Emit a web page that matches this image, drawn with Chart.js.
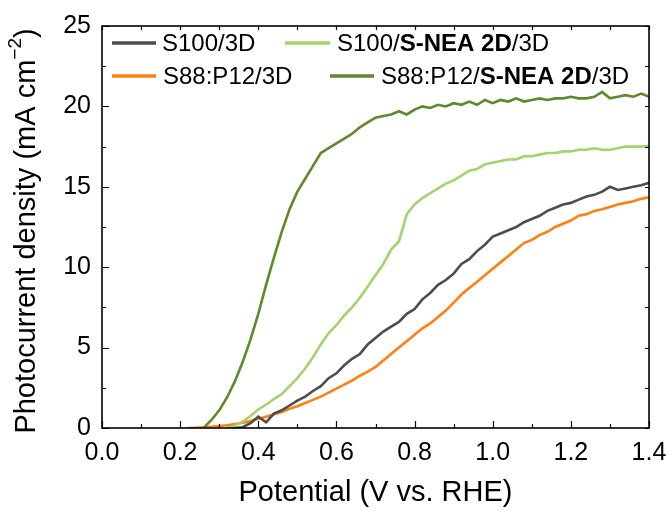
<!DOCTYPE html>
<html>
<head>
<meta charset="utf-8">
<script src="https://cdn.jsdelivr.net/npm/chart.js@4.4.1/dist/chart.umd.min.js"></script>
<style>
  html, body { margin: 0; padding: 0; background: #fff; }
  #wrap { width: 667px; height: 511px; }
</style>
</head>
<body>
<div id="wrap"><canvas id="c" width="667" height="511"></canvas></div>
<script>
// Applied potential (V vs. RHE)
const potential = [
  0.20, 0.22, 0.24, 0.26, 0.28, 0.30, 0.32, 0.34, 0.36, 0.38,
  0.40, 0.42, 0.44, 0.46, 0.48, 0.50, 0.52, 0.54, 0.56, 0.58,
  0.60, 0.62, 0.64, 0.66, 0.68, 0.70, 0.72, 0.74, 0.76, 0.78,
  0.80, 0.82, 0.84, 0.86, 0.88, 0.90, 0.92, 0.94, 0.96, 0.98,
  1.00, 1.02, 1.04, 1.06, 1.08, 1.10, 1.12, 1.14, 1.16, 1.18,
  1.20, 1.22, 1.24, 1.26, 1.28, 1.30, 1.32, 1.34, 1.36, 1.38,
  1.40
];

// Photocurrent density (mA cm^-2) for each photoanode
const s100_3D = [
  null, null, null, null, null, null, 0.0, 0.0, 0.05, 0.3,
  0.7, 0.35, 0.9, 1.1, 1.4, 1.7, 1.95, 2.3, 2.6, 3.1,
  3.4, 3.9, 4.3, 4.6, 5.2, 5.6, 6.0, 6.3, 6.6, 7.1,
  7.4, 8.0, 8.4, 8.9, 9.2, 9.6, 10.2, 10.5, 11.0, 11.4,
  11.9, 12.1, 12.3, 12.5, 12.8, 13.0, 13.2, 13.5, 13.7, 13.9,
  14.0, 14.2, 14.4, 14.5, 14.7, 15.0, 14.8, 14.9, 15.0, 15.1,
  15.25
];
const s100_sNea_3D = [
  null, null, null, null, null, null, 0.0, 0.15, 0.4, 0.75,
  1.15, 1.45, 1.8, 2.1, 2.6, 3.1, 3.7, 4.4, 5.2, 5.9,
  6.4, 7.0, 7.5, 8.1, 8.8, 9.5, 10.2, 11.1, 11.6, 13.3,
  13.9, 14.3, 14.6, 14.9, 15.2, 15.4, 15.7, 16.0, 16.1, 16.4,
  16.5, 16.6, 16.7, 16.7, 16.9, 16.9, 17.0, 17.1, 17.1, 17.2,
  17.2, 17.3, 17.3, 17.4, 17.3, 17.3, 17.4, 17.5, 17.5, 17.5,
  17.55
];
const s88p12_3D = [
  null, 0.0, 0.02, 0.05, 0.08, 0.12, 0.17, 0.25, 0.33, 0.43,
  0.57, 0.7, 0.85, 1.0, 1.2, 1.35, 1.55, 1.75, 1.95, 2.2,
  2.45, 2.7, 2.95, 3.25, 3.5, 3.8, 4.2, 4.6, 5.0, 5.4,
  5.8, 6.2, 6.5, 6.9, 7.3, 7.8, 8.3, 8.7, 9.1, 9.5,
  9.9, 10.3, 10.7, 11.1, 11.5, 11.7, 12.0, 12.2, 12.5, 12.7,
  12.9, 13.2, 13.3, 13.5, 13.6, 13.75, 13.9, 14.0, 14.1, 14.25,
  14.35
];
const s88p12_sNea_3D = [
  null, null, null, 0.0, 0.5, 1.1, 1.9, 2.9, 4.1, 5.5,
  7.1, 8.9, 10.6, 12.2, 13.6, 14.7, 15.5, 16.3, 17.1, 17.4,
  17.7, 18.0, 18.3, 18.7, 19.0, 19.3, 19.4, 19.5, 19.7, 19.5,
  19.8, 20.0, 19.9, 20.1, 20.0, 20.2, 20.1, 20.3, 20.1, 20.4,
  20.2, 20.4, 20.3, 20.5, 20.3, 20.4, 20.5, 20.4, 20.5, 20.5,
  20.6, 20.5, 20.5, 20.6, 20.9, 20.5, 20.6, 20.7, 20.6, 20.8,
  20.6
];

const seriesLabels = ['S100/3D', 'S100/S-NEA 2D/3D', 'S88:P12/3D', 'S88:P12/S-NEA 2D/3D'];
const boldPart = 'S-NEA 2D';
const seriesColors = ['#4d4d4d', '#a2d46a', '#ff7f0f', '#5e8a2c'];
const seriesValues = [s100_3D, s100_sNea_3D, s88p12_3D, s88p12_sNea_3D];

const xTitle = 'Potential (V vs. RHE)';
const yTitleMain = 'Photocurrent density (mA cm';
const yTitleSup = '\u22122';
const yTitleEnd = ')';

const FONT = "'Liberation Sans', Arial, Helvetica, sans-serif";

function toPoints(values) {
  const out = [];
  values.forEach((v, i) => { if (v !== null) out.push({ x: potential[i], y: v }); });
  return out;
}

// drawing order: olive on top, then light green, gray, orange
const drawOrder = [2, 1, 3, 0];

const datasets = seriesValues.map((vals, i) => ({
  label: seriesLabels[i],
  data: toPoints(vals),
  borderColor: seriesColors[i],
  backgroundColor: seriesColors[i],
  borderWidth: 2.6,
  pointRadius: 0,
  tension: 0,
  fill: false,
  order: drawOrder[i]
}));

// Closed frame with inward ticks on all four sides
const frameTicks = {
  id: 'frameTicks',
  afterDatasetsDraw(chart) {
    const { ctx, chartArea: a, scales: { x, y } } = chart;
    ctx.save();
    ctx.strokeStyle = '#000';
    ctx.lineWidth = 1.2;
    ctx.beginPath();
    const xt = x.ticks.map(t => t.value);
    const yt = y.ticks.map(t => t.value);
    const xs = xt.length > 1 ? xt[1] - xt[0] : 0;
    const ys = yt.length > 1 ? yt[1] - yt[0] : 0;
    xt.forEach((v, i) => {
      const p = Math.round(x.getPixelForValue(v)) + 0.5;
      ctx.moveTo(p, a.bottom); ctx.lineTo(p, a.bottom - 7);
      ctx.moveTo(p, a.top); ctx.lineTo(p, a.top + 4);
      if (i < xt.length - 1) {
        const m = Math.round(x.getPixelForValue(v + xs / 2)) + 0.5;
        ctx.moveTo(m, a.bottom); ctx.lineTo(m, a.bottom - 4);
        ctx.moveTo(m, a.top); ctx.lineTo(m, a.top + 4);
      }
    });
    yt.forEach((v, i) => {
      const p = Math.round(y.getPixelForValue(v)) + 0.5;
      ctx.moveTo(a.left, p); ctx.lineTo(a.left + 7, p);
      ctx.moveTo(a.right, p); ctx.lineTo(a.right - 4, p);
      if (i < yt.length - 1) {
        const m = Math.round(y.getPixelForValue(v + ys / 2)) + 0.5;
        ctx.moveTo(a.left, m); ctx.lineTo(a.left + 4, m);
        ctx.moveTo(a.right, m); ctx.lineTo(a.right - 4, m);
      }
    });
    ctx.stroke();
    ctx.lineWidth = 1.6;
    ctx.strokeRect(a.left, a.top, a.right - a.left, a.bottom - a.top);
    ctx.restore();
  }
};

function drawRich(ctx, text, x, y, size) {
  const idx = text.indexOf(boldPart);
  const parts = idx < 0 ? [[text, false]] : [
    [text.slice(0, idx), false], [boldPart, true], [text.slice(idx + boldPart.length), false]
  ];
  let cx = x;
  parts.forEach(([s, b]) => {
    if (!s) return;
    ctx.font = (b ? 'bold ' : '') + size + 'px ' + FONT;
    ctx.fillText(s, cx, y);
    cx += ctx.measureText(s).width;
  });
}

// Two-row legend with partly bold labels, plus the axis titles
const annotations = {
  id: 'annotations',
  afterDraw(chart) {
    const { ctx, chartArea: a } = chart;
    ctx.save();
    ctx.fillStyle = '#000';
    ctx.textBaseline = 'middle';
    ctx.textAlign = 'left';
    const slots = [
      { line: [a.left + 10, a.left + 54], text: a.left + 60, y: a.top + 17 },
      { line: [a.left + 183, a.left + 228], text: a.left + 235, y: a.top + 17 },
      { line: [a.left + 10, a.left + 54], text: a.left + 61, y: a.top + 50 },
      { line: [a.left + 228, a.left + 272], text: a.left + 279, y: a.top + 50 }
    ];
    slots.forEach((s, i) => {
      ctx.strokeStyle = seriesColors[i];
      ctx.lineWidth = 3.5;
      ctx.beginPath();
      ctx.moveTo(s.line[0], s.y);
      ctx.lineTo(s.line[1], s.y);
      ctx.stroke();
      ctx.fillStyle = '#000';
      drawRich(ctx, seriesLabels[i], s.text, s.y + 1, 24);
    });

    // x-axis title
    ctx.font = '29px ' + FONT;
    ctx.textAlign = 'center';
    ctx.fillText(xTitle, (a.left + a.right) / 2, 493);

    // y-axis title with superscript
    ctx.save();
    ctx.translate(27, (a.top + a.bottom) / 2 + 4);
    ctx.rotate(-Math.PI / 2);
    ctx.textAlign = 'left';
    ctx.font = '29px ' + FONT;
    const w1 = ctx.measureText(yTitleMain).width;
    const w3 = ctx.measureText(yTitleEnd).width;
    ctx.font = '19px ' + FONT;
    const w2 = ctx.measureText(yTitleSup).width;
    let sx = -(w1 + w2 + w3) / 2;
    ctx.font = '29px ' + FONT;
    ctx.fillText(yTitleMain, sx, 0);
    sx += w1;
    ctx.font = '19px ' + FONT;
    ctx.fillText(yTitleSup, sx, -11);
    sx += w2;
    ctx.font = '29px ' + FONT;
    ctx.fillText(yTitleEnd, sx, 0);
    ctx.restore();
    ctx.restore();
  }
};

new Chart(document.getElementById('c'), {
  type: 'line',
  data: { datasets },
  options: {
    responsive: false,
    animation: false,
    devicePixelRatio: 1,
    layout: { padding: { left: 0, right: 18, top: 26, bottom: 0 } },
    plugins: { legend: { display: false }, tooltip: { enabled: false } },
    scales: {
      x: {
        type: 'linear',
        min: 0, max: 1.4,
        grid: { display: false, drawTicks: false },
        border: { display: false },
        ticks: {
          stepSize: 0.2,
          padding: 10,
          color: '#000',
          font: { family: FONT, size: 25 },
          maxRotation: 0,
          callback: v => v.toFixed(1)
        },
        afterFit: s => { s.height = 83; s.paddingLeft = 0; s.paddingRight = 0; }
      },
      y: {
        type: 'linear',
        min: 0, max: 25,
        grid: { display: false, drawTicks: false },
        border: { display: false },
        ticks: {
          stepSize: 5,
          padding: 11,
          color: '#000',
          font: { family: FONT, size: 25 }
        },
        afterFit: s => { s.width = 102; s.paddingTop = 0; s.paddingBottom = 0; }
      }
    }
  },
  plugins: [frameTicks, annotations]
});
</script>
</body>
</html>
